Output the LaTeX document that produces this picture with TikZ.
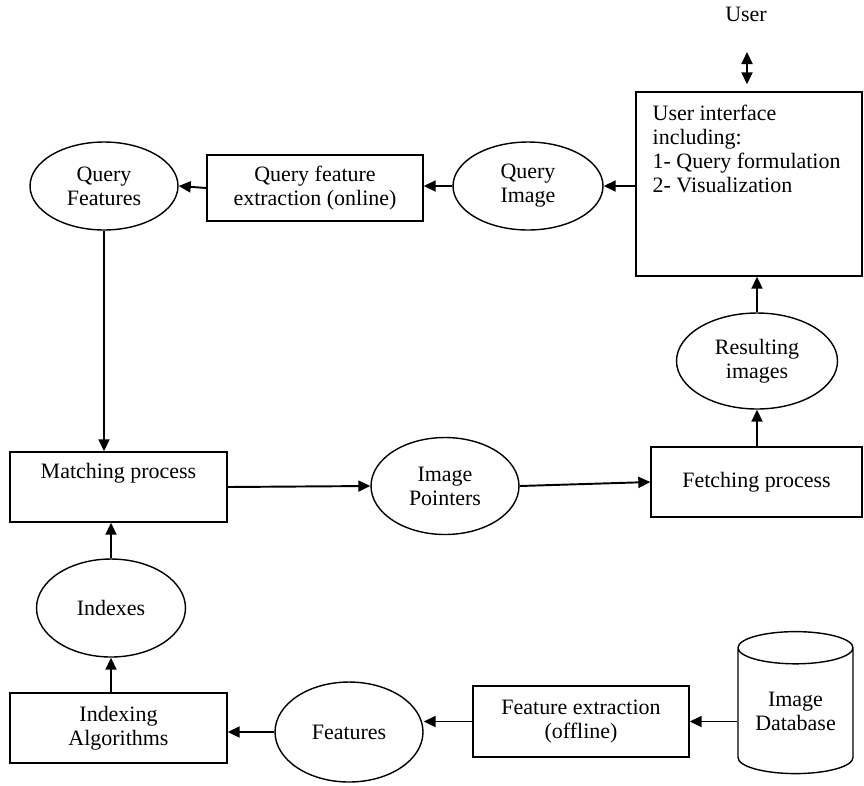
\documentclass[tikz,border=0pt]{standalone}
\usepackage{fontspec}
\setmainfont{Liberation Serif}
\usepackage{tikz}
\usetikzlibrary{arrows.meta,shapes.geometric,calc}

\begin{document}
\begin{tikzpicture}[x=0.02cm,y=-0.02cm,
  font=\fontsize{12.5}{13.7}\selectfont,
  box/.style={draw,line width=0.8pt,rectangle,align=center,inner sep=0pt},
  oval/.style={draw,line width=0.8pt,ellipse,align=center,inner sep=0pt},
  tip/.style={Triangle[length=0.24cm,width=0.22cm]},
  arr/.style={line width=1.1pt,-{Triangle[length=0.24cm,width=0.22cm]}}]
\useasboundingbox (0,0) rectangle (864,785);
% top row
\node (user) at (746,14) {User};
\coordinate (usr) at (747,52);
\node[box,minimum width=4.52cm,minimum height=3.68cm] (ui) at (749,184) {};
\node[anchor=north west,align=left,inner sep=0pt] (uitext) at ($(ui.north west)+(17,13)$)
  {User interface\\including:\\1- Query formulation\\2- Visualization};
\node[oval,minimum width=3.0cm,minimum height=1.76cm] (qimg) at (528,186) {Query\\Image};
\node[box,minimum width=4.32cm,minimum height=1.32cm] (qfe) at (315,188) {Query feature\\extraction (online)};
\node[oval,minimum width=2.96cm,minimum height=1.76cm] (qf) at (104,186) {Query\\Features};
% middle row
\node[box,minimum width=4.34cm,minimum height=1.4cm] (match) at (118.5,487) {Matching process\\\strut};
\node[oval,minimum width=2.96cm,minimum height=1.94cm] (ptr) at (445,486) {Image\\Pointers};
\node[box,minimum width=4.22cm,minimum height=1.4cm] (fetch) at (756.5,482) {Fetching process};
\node[oval,minimum width=3.22cm,minimum height=1.92cm] (res) at (757,361) {Resulting\\images};
% bottom row
\node[oval,minimum width=2.98cm,minimum height=1.96cm] (idx) at (111,608) {Indexes};
\node[box,minimum width=4.34cm,minimum height=1.4cm] (idxalg) at (118.5,728) {Indexing\\Algorithms};
\node[oval,minimum width=2.96cm,minimum height=2.0cm] (feat) at (349,732) {Features};
\node[box,minimum width=4.32cm,minimum height=1.42cm] (fext) at (581,721.5) {Feature extraction\\(offline)};
\node[draw,line width=0.8pt,cylinder,shape border rotate=90,aspect=0.4,align=center,
  inner sep=0pt,minimum width=2.3cm,minimum height=2.84cm] (db) at (795.5,711) {Image\\Database};
% connectors
\draw[line width=1.1pt,{Triangle[length=0.24cm,width=0.22cm]}-{Triangle[length=0.24cm,width=0.22cm]},
  shorten >=4] (usr) -- (usr |- ui.north);
\draw[arr] (ui.west |- qimg) -- (qimg.east);
\draw[arr] (qimg.west) -- (qimg.west -| qfe.east);
\draw[arr] (qfe.west) -- (qf.east);
\draw[arr] (qf.south) -- (qf.south |- match.north);
\draw[arr] (match.east) -- (ptr.west);
\draw[arr] (ptr.east) -- (fetch.west);
\draw[arr] (fetch.north -| res) -- (res.south);
\draw[arr] (res.north) -- (res.north |- ui.south);
\draw[arr] (idx.north) -- (idx.north |- match.south);
\draw[arr] (idxalg.north -| idx) -- (idx.south);
\draw[arr] (feat.west) -- (feat.west -| idxalg.east);
\draw[arr] (fext.west) -- (fext.west -| feat.east);
\draw[arr] (db.west |- fext) -- (fext.east);
\end{tikzpicture}
\end{document}
